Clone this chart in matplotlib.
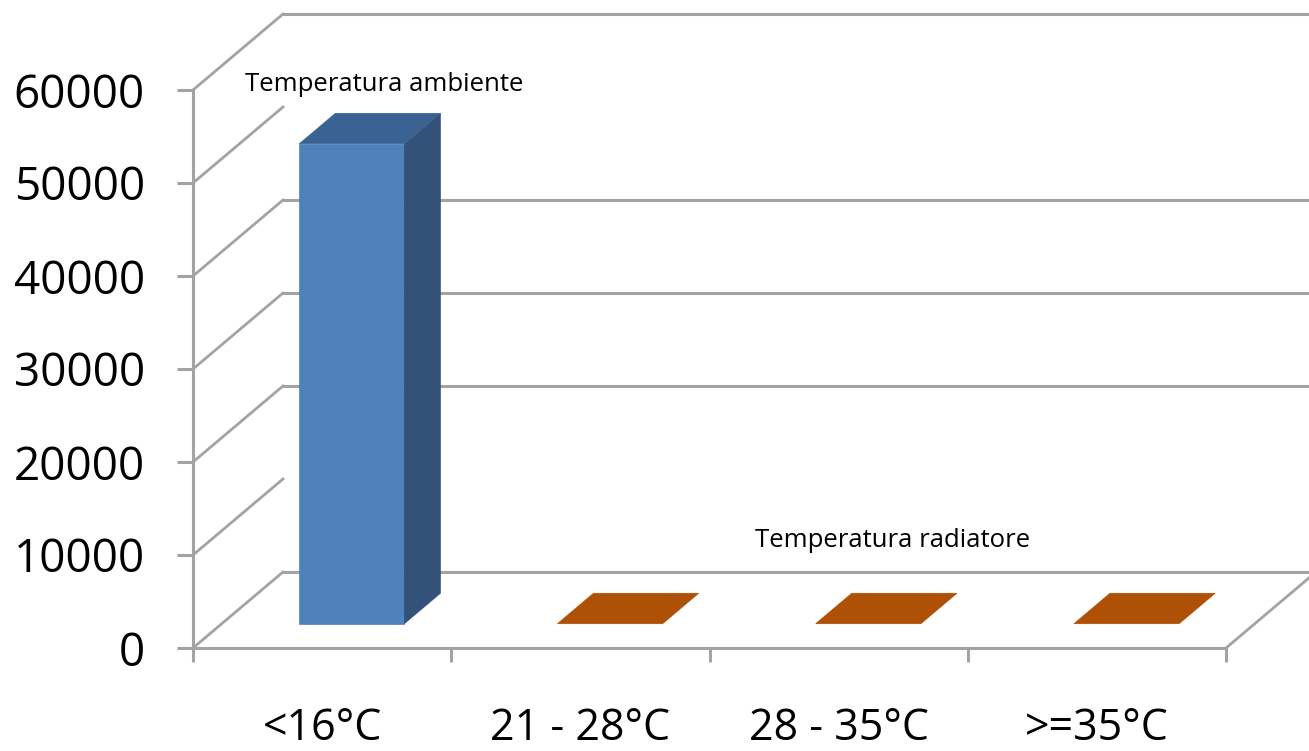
import numpy as np
import matplotlib.pyplot as plt
from matplotlib.patches import Polygon

plt.rcParams['font.family'] = ['Open Sans', 'DejaVu Sans']

categories = ['<16°C', '21 - 28°C', '28 - 35°C', '>=35°C']
ambiente = [51600, np.nan, np.nan, np.nan]
radiatore = [np.nan, 0, 0, 0]
yticks = [0, 10000, 20000, 30000, 40000, 50000, 60000]
back_grid = [0, 20000, 30000, 40000, 60000]

# oblique projection: how far the back wall sits from the front plane
DEPTH_X = 0.3485      # in category units
DEPTH_Y = 8172        # in value units
BAR_X = (0.30, 0.707)  # bar span inside a category slot
BAR_D = (0.32, 0.72)   # bar span in depth (0 = front, 1 = back wall)
GREY = '#a3a3a3'


def proj(x, v, d):
    return (x + DEPTH_X * d, v + DEPTH_Y * d)


def draw_bar(ax, i, v, front, side, top):
    x0, x1 = i + BAR_X[0], i + BAR_X[1]
    d0, d1 = BAR_D
    faces = []
    if v > 0:
        faces.append(([proj(x0, 0, d0), proj(x1, 0, d0), proj(x1, v, d0), proj(x0, v, d0)], front))
        faces.append(([proj(x1, 0, d0), proj(x1, 0, d1), proj(x1, v, d1), proj(x1, v, d0)], side))
    faces.append(([proj(x0, v, d0), proj(x1, v, d0), proj(x1, v, d1), proj(x0, v, d1)], top))
    for pts, c in faces:
        ax.add_patch(Polygon(pts, closed=True, facecolor=c, edgecolor=c, lw=0.5,
                             clip_on=False, zorder=3))


fig = plt.figure(figsize=(13.09, 7.51), dpi=100)
ax = fig.add_axes([193 / 1309, 103 / 751, 1033 / 1309, 558 / 751])
ax.set_xlim(0, len(categories))
ax.set_ylim(0, 60000)

# walls: diagonals from each front tick, horizontal lines on the back wall
for v in yticks:
    a, b = (0, v), proj(0, v, 1)
    ax.plot([a[0], b[0]], [a[1], b[1]], color=GREY, lw=2.0, clip_on=False, zorder=1)
for v in back_grid:
    a, b = proj(0, v, 1), proj(len(categories), v, 1)
    ax.plot([a[0], b[0]], [a[1], b[1]], color=GREY, lw=2.2, clip_on=False, zorder=1)
a, b = (len(categories), 0), proj(len(categories), 0, 1)
ax.plot([a[0], b[0]], [a[1], b[1]], color=GREY, lw=2.0, clip_on=False, zorder=1)

for i, v in enumerate(ambiente):
    if not np.isnan(v):
        draw_bar(ax, i, v, '#4f81bd', '#32527a', '#3a6292')
for i, v in enumerate(radiatore):
    if not np.isnan(v):
        draw_bar(ax, i, v, '#ae5006', '#8a3f05', '#ae5006')

# series name labels
i0 = 0
top0 = proj(i0 + sum(BAR_X) / 2, ambiente[i0], BAR_D[1])
ax.annotate('Temperatura ambiente', top0, xytext=(-4, 29), textcoords='offset pixels',
            ha='center', va='center', fontsize=18.5, annotation_clip=False)
i2 = 2
top2 = proj(i2 + sum(BAR_X) / 2, radiatore[i2], BAR_D[1])
ax.annotate('Temperatura radiatore', top2, xytext=(-12, 53), textcoords='offset pixels',
            ha='center', va='center', fontsize=18.5, annotation_clip=False)

# axes
for s in ['top', 'right']:
    ax.spines[s].set_visible(False)
for s in ['left', 'bottom']:
    ax.spines[s].set_color(GREY)
    ax.spines[s].set_linewidth(2.2)
ax.set_facecolor('none')

ax.set_yticks(yticks)
ax.set_yticklabels([str(v) for v in yticks])
ax.tick_params(axis='y', length=11.5, width=2.2, color=GREY, pad=23, labelsize=33)

ax.set_xticks(range(len(categories) + 1))
ax.set_xticklabels([])
ax.set_xticks(np.arange(len(categories)) + 0.5, minor=True)
ax.set_xticklabels(categories, minor=True)
ax.tick_params(axis='x', which='major', length=10, width=2.2, color=GREY)
ax.tick_params(axis='x', which='minor', length=0, pad=42, labelsize=31)

fig.savefig('out.png', dpi=100)
